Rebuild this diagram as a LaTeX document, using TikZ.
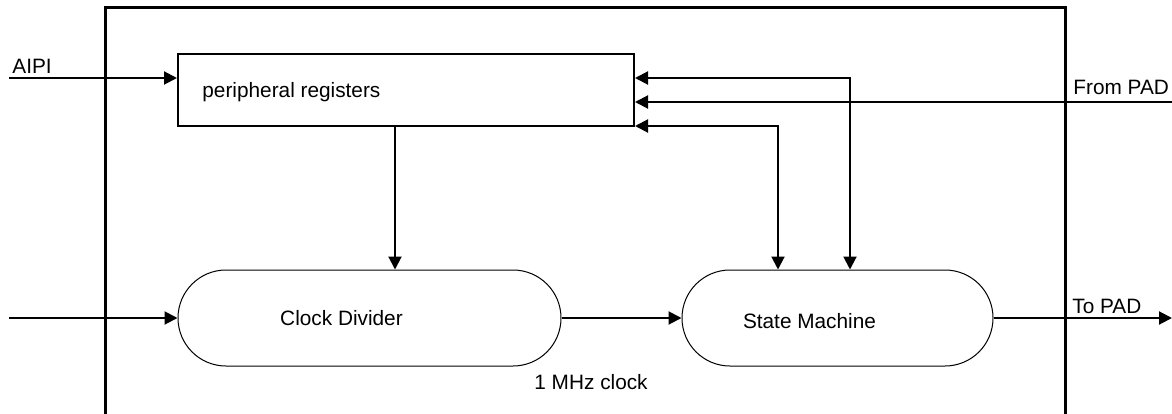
\documentclass[tikz,border=0pt]{standalone}
\usepackage{fontspec}
\setmainfont{Liberation Sans}
\usetikzlibrary{arrows.meta,calc,positioning,shapes.misc}
\tikzset{
  pad frame/.style={draw=black,line width=1.5pt},
  pad regs/.style={
    draw=black,
    line width=1pt,
    rectangle,
    minimum width=228pt,
    minimum height=36pt,
    inner sep=0pt
  },
  pad block/.style={
    draw=black,
    line width=0.5pt,
    rounded rectangle,
    minimum height=48pt,
    inner sep=0pt
  },
  pad flow/.style={-{Triangle[length=6.5pt,width=6.5pt]},draw=black,line width=1pt},
  pad both/.style={{Triangle[length=6.5pt,width=6.5pt]}-{Triangle[length=6.5pt,width=6.5pt]},draw=black,line width=1pt},
  pad label/.style={font=\fontsize{10.4}{12}\selectfont,inner sep=0pt}
}

\begin{document}
\begin{tikzpicture}[x=0.5pt,y=-0.5pt]
  \clip (0,0) rectangle (1172,413);
  \fill[white] (0,0) rectangle (1172,413);

  \draw[pad frame] (105,430) |- (1065,7) -- (1065,430);

  \node[pad regs] (regs) at (406,90) {};
  \node[pad label,anchor=base west] (regstxt) at (202,97) {peripheral registers};
  \node[pad block,minimum width=191.5pt,
        label={[pad label,xshift=-14pt]center:Clock Divider}] (clkdiv) at (369.5,318) {};
  \node[pad block,minimum width=155.5pt,
        label={[pad label,xshift=-14pt,yshift=-1.5pt]center:State Machine}] (fsm) at (837.5,318) {};

  \coordinate (aipi) at (9,78);
  \coordinate (clkin) at (9,318);
  \coordinate (padin) at (1172,102);
  \coordinate (padout) at (1172,318);
  \coordinate (ctl) at (395,126);
  \coordinate (stA) at (850,78);
  \coordinate (stB) at (778,126);

  \draw[pad flow] (aipi) -- (aipi -| regs.west);
  \draw[pad flow] (padin) -- (padin -| regs.east);
  \draw[pad flow] (ctl) -- (ctl |- clkdiv.north);
  \draw[pad both] (stA |- fsm.north) -- (stA) -- (stA -| regs.east);
  \draw[pad both] (stB |- fsm.north) -- (stB) -- (stB -| regs.east);
  \draw[pad flow] (clkin) -- (clkdiv.west);
  \draw[pad flow] (clkdiv.east) -- (fsm.west);
  \draw[pad flow] (fsm.east) -- (padout);

  \node[pad label,anchor=base west] (aipitxt) at (12,73) {AIPI};
  \node[pad label,anchor=base west] (padintxt) at (1073,94) {From PAD};
  \node[pad label,anchor=base west] (padouttxt) at (1072,313) {To PAD};
  \node[pad label,anchor=base west] (clktxt) at (534,389) {1 MHz clock};
\end{tikzpicture}
\end{document}
